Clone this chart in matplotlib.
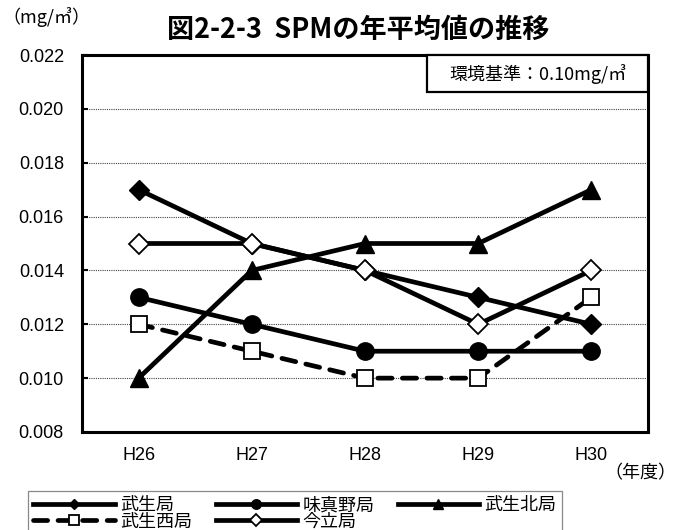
"""SPMの年平均値の推移 (図2-2-3) を折れ線グラフで再現する."""

import matplotlib

matplotlib.use("Agg")
import matplotlib.pyplot as plt
from matplotlib.patches import Rectangle
from matplotlib.ticker import FormatStrFormatter

JP_FONT = ["Noto Sans CJK JP", "DejaVu Sans"]
NUM_FONT = ["Liberation Sans", "DejaVu Sans"]

years = ["H26", "H27", "H28", "H29", "H30"]

takefu = [0.017, 0.015, 0.014, 0.013, 0.012]       # 武生局
ajimano = [0.013, 0.012, 0.011, 0.011, 0.011]      # 味真野局
takefu_kita = [0.010, 0.014, 0.015, 0.015, 0.017]  # 武生北局
takefu_nishi = [0.012, 0.011, 0.010, 0.010, 0.013] # 武生西局
imadate = [0.015, 0.015, 0.014, 0.012, 0.014]      # 今立局

y_ticks = [0.008, 0.010, 0.012, 0.014, 0.016, 0.018, 0.020, 0.022]

fig = plt.figure(figsize=(6.76, 5.30), dpi=100)
ax = fig.add_axes([82 / 676, 98 / 530, 566 / 676, 377 / 530])

x = list(range(len(years)))
lw = 3.4

h_takefu, = ax.plot(x, takefu, color="black", lw=lw, marker="D", ms=10,
                    mfc="black", mec="black", label="武生局", zorder=3)
h_ajimano, = ax.plot(x, ajimano, color="black", lw=lw, marker="o", ms=12.5,
                     mfc="black", mec="black", label="味真野局", zorder=3)
h_kita, = ax.plot(x, takefu_kita, color="black", lw=lw, marker="^", ms=13,
                  mfc="black", mec="black", label="武生北局", zorder=3)
h_nishi, = ax.plot(x, takefu_nishi, color="black", lw=lw, ls=(0, (3, 2.2)),
                   dash_capstyle="round", marker="s", ms=12, mfc="white",
                   mec="black", mew=1.3, label="武生西局", zorder=4)
h_imadate, = ax.plot(x, imadate, color="black", lw=lw, marker="D", ms=10.5,
                     mfc="white", mec="black", mew=1.3, label="今立局", zorder=4)

ax.set_xlim(-0.5, len(years) - 0.5)
ax.set_ylim(y_ticks[0], y_ticks[-1])
ax.set_xticks(x)
ax.set_xticklabels(years)
ax.set_yticks(y_ticks)
ax.yaxis.set_major_formatter(FormatStrFormatter("%.3f"))

ax.yaxis.grid(True, linestyle=(0, (1, 1)), color="#444444", lw=0.8)
ax.set_axisbelow(True)

for spine in ax.spines.values():
    spine.set_linewidth(2.2)
    spine.set_color("black")

ax.tick_params(axis="x", length=0, pad=11)
ax.tick_params(axis="y", direction="in", length=4, width=1.5, pad=13)
for lab in ax.get_xticklabels() + ax.get_yticklabels():
    lab.set_family(NUM_FONT)
    lab.set_fontsize(13)

# 環境基準の枠
ax.add_patch(Rectangle((0.61, 0.902), 0.39, 0.098, transform=ax.transAxes,
                       facecolor="white", edgecolor="black", lw=1.6,
                       zorder=5, clip_on=False))
ax.text(0.805, 0.949, "環境基準：0.10mg/㎥", transform=ax.transAxes,
        ha="center", va="center", fontsize=13, family=JP_FONT, zorder=6)

fig.text(358 / 676, 1 - 30 / 530, "図2-2-3  SPMの年平均値の推移",
         ha="center", va="center", fontsize=19.5, fontweight="bold",
         family=JP_FONT)
fig.text(2 / 676, 1 - 17 / 530, "（mg/㎥）", ha="left", va="center",
         fontsize=13, family=JP_FONT)
fig.text(1.0, 1 - 473 / 530, "（年度）", ha="right", va="center",
         fontsize=13, family=JP_FONT)

# 凡例: 列優先で並ぶので 1行目/2行目 の順に組み替える
handles = [h_takefu, h_nishi, h_ajimano, h_imadate, h_kita]
leg = fig.legend(handles=handles, loc="upper left",
                 bbox_to_anchor=(19 / 676, 1 - 482 / 530),
                 bbox_transform=fig.transFigure, ncol=3, frameon=True,
                 fancybox=False, framealpha=1, edgecolor="#888888",
                 borderpad=0.3, handlelength=4.5, handletextpad=0.3,
                 columnspacing=1.3, labelspacing=-0.1, markerscale=0.55,
                 prop={"family": JP_FONT, "size": 13})
leg.get_frame().set_linewidth(0.9)

fig.savefig("out.png", dpi=100)
